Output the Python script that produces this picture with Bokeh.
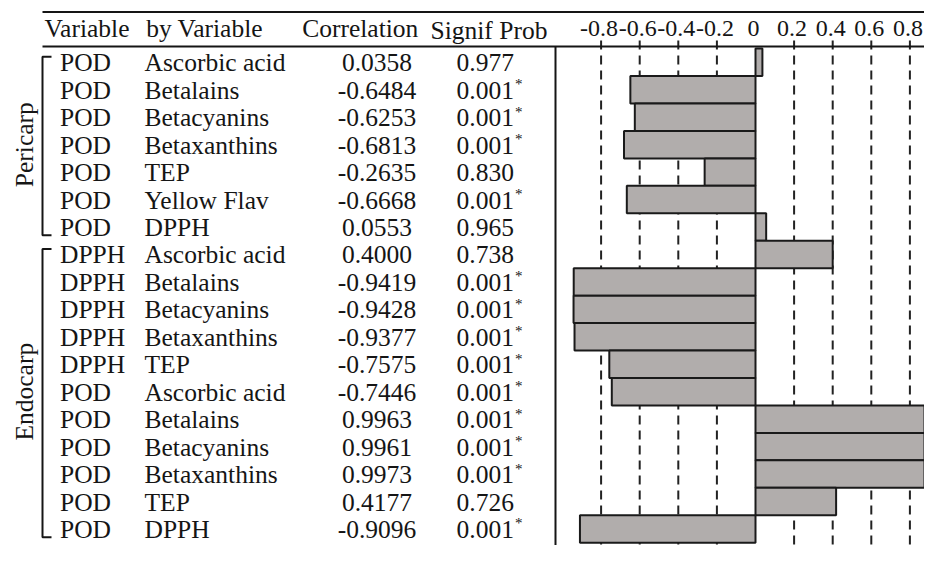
import numpy as np
from bokeh.plotting import figure
from bokeh.models import Range1d, ColumnDataSource
from bokeh.embed import file_html
from bokeh.resources import INLINE
from bokeh.core.properties import value

# ---------------- data ----------------
groups = ["Pericarp", "Endocarp"]
group_sizes = [7, 11]
variables = ["POD"] * 7 + ["DPPH"] * 5 + ["POD"] * 6
by_variables = ["Ascorbic acid", "Betalains", "Betacyanins", "Betaxanthins", "TEP", "Yellow Flav", "DPPH",
                "Ascorbic acid", "Betalains", "Betacyanins", "Betaxanthins", "TEP",
                "Ascorbic acid", "Betalains", "Betacyanins", "Betaxanthins", "TEP", "DPPH"]
correlations = [0.0358, -0.6484, -0.6253, -0.6813, -0.2635, -0.6668, 0.0553,
                0.4000, -0.9419, -0.9428, -0.9377, -0.7575,
                -0.7446, 0.9963, 0.9961, 0.9973, 0.4177, -0.9096]
signif_probs = ["0.977", "0.001*", "0.001*", "0.001*", "0.830", "0.001*", "0.965",
                "0.738", "0.001*", "0.001*", "0.001*", "0.001*",
                "0.001*", "0.001*", "0.001*", "0.001*", "0.726", "0.001*"]
headers = ["Variable", "by Variable", "Correlation", "Signif Prob"]
tick_values = [-0.8, -0.6, -0.4, -0.2, 0, 0.2, 0.4, 0.6, 0.8]
tick_labels = ["-0.8", "-0.6", "-0.4", "-0.2", "0", "0.2", "0.4", "0.6", "0.8"]

# ---------------- layout ----------------
W, H = 924, 545
PITCH = 27.45         # px per row
ROW0 = 61.8           # y (px) of row 0 centre
def prow(py):         # px -> row units
    return (py - ROW0) / PITCH

FONT = value("Liberation Serif")
FS = "25.5px"
INK = "#151515"

n = len(variables)
rows = np.arange(n)
anchor = rows + 0.5 / PITCH
y_bottom = prow(H)

p = figure(width=W, height=H, x_range=Range1d(0, W),
           y_range=Range1d(y_bottom, prow(0)),
           output_backend="svg", toolbar_location=None, min_border=0,
           x_axis_location=None, y_axis_location=None)
p.grid.visible = False
p.outline_line_color = None
p.background_fill_color = "white"
p.border_fill_color = "white"

zero_px = 755.0
unit_px = 193.0
p.extra_x_ranges = {"corr": Range1d(-zero_px / unit_px, (W - zero_px) / unit_px)}

# dashed grid lines
gl = [t for t in tick_values if t != 0]
p.segment(x0=gl, x1=gl, y0=[prow(40)] * len(gl), y1=[y_bottom + 1] * len(gl),
          x_range_name="corr", line_color="#222222", line_width=2, line_dash="9 6")

# bars
p.hbar(y=rows, height=1, left=0, right=correlations, x_range_name="corr",
       fill_color="#b1adac", line_color="#1a1a1a", line_width=2)

# table rules
p.segment(x0=[42, 42], x1=[W, W], y0=[prow(11.5), prow(46)], y1=[prow(11.5), prow(46)],
          line_color=INK, line_width=2)
p.segment(x0=[555], x1=[555], y0=[prow(46)], y1=[y_bottom + 1], line_color=INK, line_width=2)

# headers
p.text(x=[44, 145.7, 301.7], y=[prow(27.5)] * 3, text=headers[:3], text_font=FONT,
       text_font_size=FS, text_baseline="alphabetic", text_align="left", text_color=INK)
p.text(x=[430], y=[prow(29.5)], text=headers[3:], text_font=FONT,
       text_font_size=FS, text_baseline="alphabetic", text_align="left", text_color=INK)
p.text(x=tick_values, y=[prow(27.5)] * len(tick_values), text=tick_labels, x_range_name="corr",
       text_font=FONT, text_font_size="24px", text_baseline="alphabetic", text_align="center",
       x_offset=-2, text_color=INK)

# table body
src = ColumnDataSource(dict(
    y=anchor, var=variables, by=by_variables,
    corr=[f"{c:.4f}" for c in correlations],
    sig=[s.rstrip("*") for s in signif_probs],
))
common = dict(source=src, text_font=FONT, text_font_size=FS, text_baseline="alphabetic",
              text_color=INK)
p.text(x=59.5, y="y", text="var", text_align="left", **common)
p.text(x=144, y="y", text="by", text_align="left", **common)
p.text(x=376.5, y="y", text="corr", text_align="center", **common)
p.text(x=456, y="y", text="sig", text_align="left", **common)

star_rows = [a for a, s in zip(anchor, signif_probs) if s.endswith("*")]
p.text(x=[514.5] * len(star_rows), y=[a - 6.0 / PITCH for a in star_rows],
       text=["*"] * len(star_rows), text_font=FONT, text_font_size="15px",
       text_baseline="alphabetic", text_align="left", text_color=INK)

# group brackets and labels
xs, ys, gy = [], [], []
start = 0
for g, size in zip(groups, group_sizes):
    top = start - 0.2
    bot = start + size - 1 + 0.3
    xs.append([51, 42, 42, 51])
    ys.append([top, top, bot, bot])
    gy.append(start + (size - 1) / 2)
    start += size
p.multi_line(xs=xs, ys=ys, line_color=INK, line_width=2)
p.text(x=[24] * len(groups), y=gy, text=groups, angle=np.pi / 2, text_font=FONT,
       text_font_size=FS, text_align="center", text_baseline="middle", text_color=INK)

open("out.html", "w").write(file_html(p, INLINE))
